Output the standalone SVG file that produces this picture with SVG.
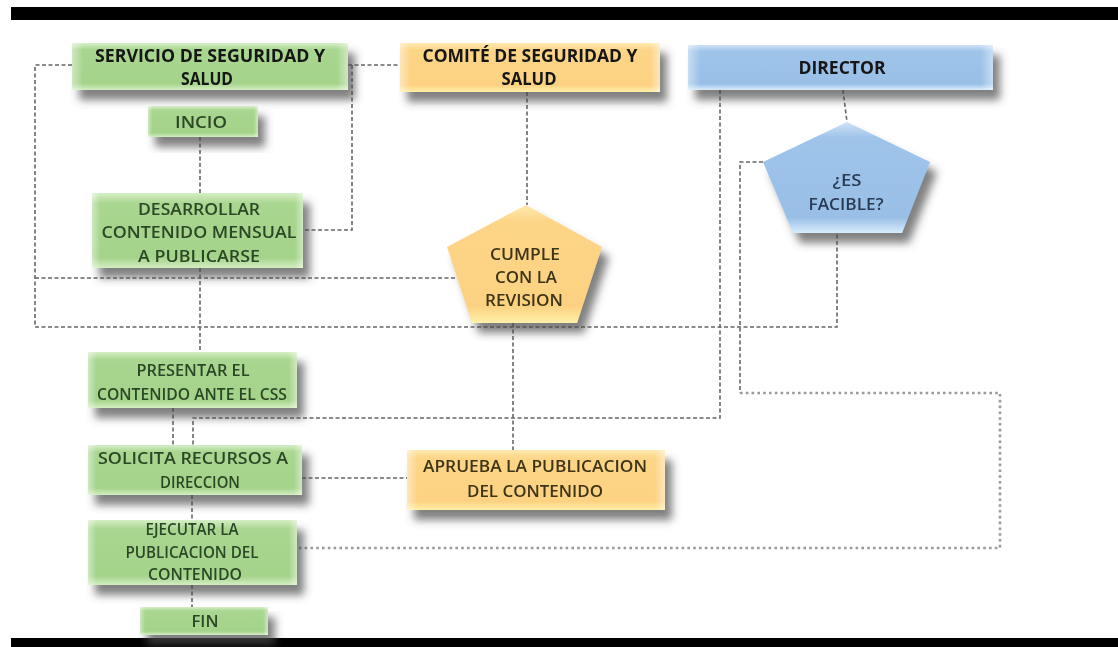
<svg xmlns="http://www.w3.org/2000/svg" width="1118" height="647" viewBox="0 0 1118 647">
<defs>
<filter id="sh" x="-10%" y="-20%" width="130%" height="170%">
<feGaussianBlur in="SourceAlpha" stdDeviation="4"/>
<feOffset dx="7" dy="10" result="b"/>
<feFlood flood-color="#4a4a4a" flood-opacity="0.7"/>
<feComposite in2="b" operator="in"/>
<feMerge><feMergeNode/><feMergeNode in="SourceGraphic"/></feMerge>
</filter>
<linearGradient id="gG" x1="0" y1="0" x2="0" y2="1">
<stop offset="0" stop-color="#d6efc6"/><stop offset="0.14" stop-color="#a9d690"/><stop offset="0.86" stop-color="#a4d38a"/><stop offset="1" stop-color="#d3eec2"/>
</linearGradient>
<linearGradient id="gY" x1="0" y1="0" x2="0" y2="1">
<stop offset="0" stop-color="#ffe9b0"/><stop offset="0.14" stop-color="#fdd587"/><stop offset="0.86" stop-color="#fcd282"/><stop offset="1" stop-color="#fff0a8"/>
</linearGradient>
<linearGradient id="gB" x1="0" y1="0" x2="0" y2="1">
<stop offset="0" stop-color="#cfe2f5"/><stop offset="0.14" stop-color="#9fc4ea"/><stop offset="0.86" stop-color="#99bfe7"/><stop offset="1" stop-color="#d8ecfb"/>
</linearGradient>
<linearGradient id="gE" x1="0" y1="0" x2="1" y2="0">
<stop offset="0" stop-color="#fff" stop-opacity="0.45"/><stop offset="0.04" stop-color="#fff" stop-opacity="0"/><stop offset="0.96" stop-color="#fff" stop-opacity="0"/><stop offset="1" stop-color="#fff" stop-opacity="0.45"/>
</linearGradient>
</defs>
<style>
.bar{fill:#000}
.g{fill:url(#gG)}
.y{fill:url(#gY)}
.b{fill:url(#gB)}
.e{fill:url(#gE)}
.t{font-family:"Open Sans","Liberation Sans",sans-serif;font-size:17px;text-anchor:middle}
.h{font-weight:700;fill:#151515}
.s{font-weight:600;fill:#2c4626}
.o{font-weight:600;fill:#3d3418}
.d{font-weight:600;fill:#2a3a55}
.c{fill:none;stroke:#666;stroke-width:1.6;stroke-dasharray:4 2.5}
.p{fill:none;stroke:#9a9a9a;stroke-width:2.6;stroke-dasharray:2.6 3.2}
</style>
<rect width="1118" height="647" fill="#fff"/>
<rect class="bar" x="11" y="7" width="1107" height="13"/>
<rect class="bar" x="11" y="638" width="1107" height="9"/>

<g id="connectors">
<path class="c" d="M72,65 H35 V327 H837 V233"/>
<path class="c" d="M35,278 H457"/>
<path class="c" d="M348,65 H400"/>
<path class="c" d="M352,65 V230 H303"/>
<path class="c" d="M200,137 V193"/>
<path class="c" d="M200,268 V352"/>
<path class="c" d="M527,92 V205"/>
<path class="c" d="M513,323 V450"/>
<path class="c" d="M720,90 V418 H193 V445"/>
<path class="c" d="M173,408 V445"/>
<path class="c" d="M843,90 L847,122"/>
<path class="c" d="M763,162 H740 V393"/>
<path class="p" d="M740,393 H1000 V548 H297"/>
<path class="c" d="M302,478 H407"/>
<path class="c" d="M192,495 V520"/>
<path class="c" d="M192,585 V607"/>
</g>

<g id="servicio" filter="url(#sh)">
<rect class="g" x="72" y="43" width="276" height="47"/><rect class="e" x="72" y="43" width="276" height="47"/>
<text class="t h" x="210" y="62" textLength="230" lengthAdjust="spacingAndGlyphs">SERVICIO DE SEGURIDAD Y</text>
<text class="t h" x="207" y="85" textLength="52" lengthAdjust="spacingAndGlyphs">SALUD</text>
</g>
<g id="comite" filter="url(#sh)">
<rect class="y" x="400" y="43" width="260" height="49"/><rect class="e" x="400" y="43" width="260" height="49"/>
<text class="t h" x="530" y="62" textLength="215" lengthAdjust="spacingAndGlyphs">COMITÉ DE SEGURIDAD Y</text>
<text class="t h" x="529" y="85" textLength="55" lengthAdjust="spacingAndGlyphs">SALUD</text>
</g>
<g id="director" filter="url(#sh)">
<rect class="b" x="688" y="45" width="305" height="45"/><rect class="e" x="688" y="45" width="305" height="45"/>
<text class="t h" x="842" y="74" fill="#1c2740" textLength="87" lengthAdjust="spacingAndGlyphs">DIRECTOR</text>
</g>
<g id="incio" filter="url(#sh)">
<rect class="g" x="148" y="106" width="110" height="31"/><rect class="e" x="148" y="106" width="110" height="31"/>
<text class="t s" x="201" y="128" textLength="52" lengthAdjust="spacingAndGlyphs">INCIO</text>
</g>
<g id="desarrollar" filter="url(#sh)">
<rect class="g" x="92" y="193" width="211" height="75"/><rect class="e" x="92" y="193" width="211" height="75"/>
<text class="t s" x="199" y="215" textLength="122" lengthAdjust="spacingAndGlyphs">DESARROLLAR</text>
<text class="t s" x="199" y="238" textLength="195" lengthAdjust="spacingAndGlyphs">CONTENIDO MENSUAL</text>
<text class="t s" x="199" y="262" textLength="122" lengthAdjust="spacingAndGlyphs">A PUBLICARSE</text>
</g>
<g id="cumple" filter="url(#sh)">
<polygon class="y" points="526,205 602,247 577,323 472,323 447,247"/>
<text class="t o" x="525" y="260" textLength="70" lengthAdjust="spacingAndGlyphs">CUMPLE</text>
<text class="t o" x="526" y="283" textLength="62" lengthAdjust="spacingAndGlyphs">CON LA</text>
<text class="t o" x="524" y="306" textLength="78" lengthAdjust="spacingAndGlyphs">REVISION</text>
</g>
<g id="esfacible" filter="url(#sh)">
<polygon class="b" points="847,122 930,162 902,233 793,233 763,162"/>
<text class="t d" x="847" y="186" textLength="29" lengthAdjust="spacingAndGlyphs">¿ES</text>
<text class="t d" x="846" y="210" textLength="75" lengthAdjust="spacingAndGlyphs">FACIBLE?</text>
</g>
<g id="presentar" filter="url(#sh)">
<rect class="g" x="88" y="352" width="209" height="56"/><rect class="e" x="88" y="352" width="209" height="56"/>
<text class="t s" x="193" y="376" textLength="113" lengthAdjust="spacingAndGlyphs">PRESENTAR EL</text>
<text class="t s" x="192" y="400" textLength="190" lengthAdjust="spacingAndGlyphs">CONTENIDO ANTE EL CSS</text>
</g>
<g id="solicita" filter="url(#sh)">
<rect class="g" x="88" y="445" width="214" height="50"/><rect class="e" x="88" y="445" width="214" height="50"/>
<text class="t s" x="193" y="464" textLength="190" lengthAdjust="spacingAndGlyphs">SOLICITA RECURSOS A</text>
<text class="t s" x="200" y="488" textLength="80" lengthAdjust="spacingAndGlyphs">DIRECCION</text>
</g>
<g id="aprueba" filter="url(#sh)">
<rect class="y" x="407" y="450" width="258" height="60"/><rect class="e" x="407" y="450" width="258" height="60"/>
<text class="t o" x="535" y="472" textLength="224" lengthAdjust="spacingAndGlyphs">APRUEBA LA PUBLICACION</text>
<text class="t o" x="535" y="497" textLength="136" lengthAdjust="spacingAndGlyphs">DEL CONTENIDO</text>
</g>
<g id="ejecutar" filter="url(#sh)">
<rect class="g" x="88" y="520" width="209" height="65"/><rect class="e" x="88" y="520" width="209" height="65"/>
<text class="t s" x="192" y="535" textLength="93" lengthAdjust="spacingAndGlyphs">EJECUTAR LA</text>
<text class="t s" x="192" y="558" textLength="133" lengthAdjust="spacingAndGlyphs">PUBLICACION DEL</text>
<text class="t s" x="195" y="580" textLength="94" lengthAdjust="spacingAndGlyphs">CONTENIDO</text>
</g>
<g id="fin" filter="url(#sh)">
<rect class="g" x="140" y="607" width="128" height="28"/><rect class="e" x="140" y="607" width="128" height="28"/>
<text class="t s" x="205" y="627" textLength="27" lengthAdjust="spacingAndGlyphs">FIN</text>
</g>
</svg>
